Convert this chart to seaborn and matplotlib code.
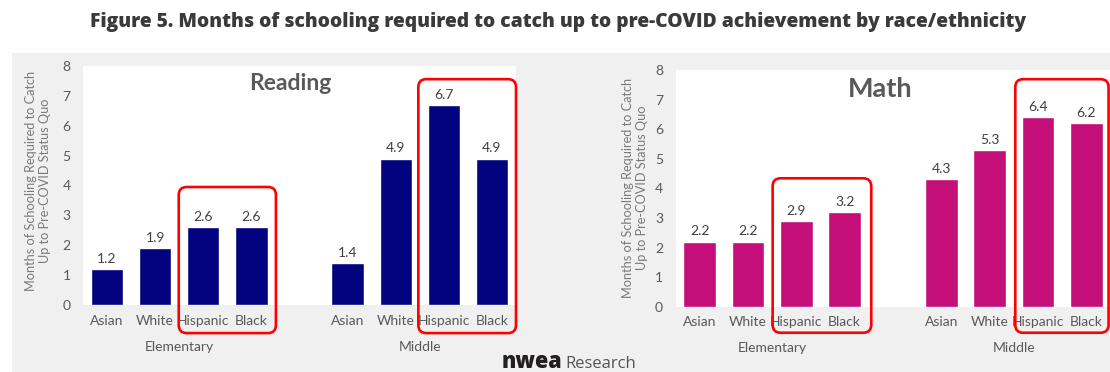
import matplotlib
matplotlib.use("Agg")
import matplotlib.pyplot as plt
from matplotlib.patches import Rectangle, FancyBboxPatch
from matplotlib.transforms import IdentityTransform, blended_transform_factory
import seaborn as sns
import pandas as pd

# ---- data -------------------------------------------------------------
races = ["Asian", "White", "Hispanic", "Black"]
levels = ["Elementary", "Middle"]
reading_elementary = [1.2, 1.9, 2.6, 2.6]
reading_middle = [1.4, 4.9, 6.7, 4.9]
math_elementary = [2.2, 2.2, 2.9, 3.2]
math_middle = [4.3, 5.3, 6.4, 6.2]

title = "Figure 5. Months of schooling required to catch up to pre-COVID achievement by race/ethnicity"
ylabel = "Months of Schooling Required to Catch\nUp to Pre-COVID Status Quo"

READ_COLOR = "#03037f"
MATH_COLOR = "#c30f77"
TEXT_GRAY = "#595959"
PANEL_GRAY = "#f0f0f0"

sns.set_theme(style="white")
plt.rcParams["font.family"] = ["Lato", "DejaVu Sans"]

W, H = 1110, 372
fig = plt.figure(figsize=(W / 100, H / 100), dpi=100)
fig.patch.set_facecolor("white")

# light gray panel behind both charts
fig.patches.append(Rectangle((12 / W, 0), (W - 12) / W, (H - 53) / H,
                             transform=fig.transFigure, facecolor=PANEL_GRAY,
                             edgecolor="none", zorder=-10))


def px_axes(left, right, top, bottom):
    return fig.add_axes([left / W, (H - bottom) / H, (right - left) / W, (bottom - top) / H])


def make_frame(elem, mid):
    rows = []
    for lvl, vals in zip(levels, [elem, mid]):
        for r, v in zip(races, vals):
            rows.append({"slot": f"{lvl} {r}", "value": v})
    return pd.DataFrame(rows)


order = [f"Elementary {r}" for r in races] + ["gap"] + [f"Middle {r}" for r in races]
slot_pos = [0, 1, 2, 3, 5, 6, 7, 8]


def draw_panel(ax, elem, mid, color, name, name_size, name_xy):
    df = make_frame(elem, mid)
    sns.barplot(data=df, x="slot", y="value", order=order, color=color,
                saturation=1, width=0.67, ax=ax, errorbar=None)
    ax.set_facecolor("white")
    ax.set_xlim(-0.5, 8.5)
    ax.set_ylim(0, 8)
    ax.set_yticks(range(0, 9))
    ax.set_xticks(slot_pos)
    ax.set_xticklabels(races * 2)
    ax.set_xlabel("")
    ax.set_ylabel("")
    for s in ax.spines.values():
        s.set_visible(False)
    ax.tick_params(axis="both", length=0, colors=TEXT_GRAY, labelsize=10)
    ax.tick_params(axis="y", pad=9)
    ax.tick_params(axis="x", pad=7)
    for c in ax.containers:
        ax.bar_label(c, fmt="%.1f", padding=3, color="#404040", fontsize=10)
    tr = blended_transform_factory(ax.transData, ax.transAxes)
    for lvl, center in zip(levels, [1.5, 6.5]):
        ax.text(center, -0.176, lvl, transform=tr, ha="center", va="center",
                color=TEXT_GRAY, fontsize=10)
    fig.text(name_xy[0] / W, 1 - name_xy[1] / H, name, ha="center", va="center",
             fontsize=name_size, fontweight="bold", color=TEXT_GRAY)


def callout(ax, x0, x1, y0, y1):
    px0, py0 = ax.transData.transform((x0, y0))
    px1, py1 = ax.transData.transform((x1, y1))
    fig.add_artist(FancyBboxPatch((px0, py0), px1 - px0, py1 - py0,
                                  boxstyle="round,pad=0,rounding_size=8",
                                  transform=IdentityTransform(), fill=False,
                                  edgecolor="#ff0000", linewidth=1.9, clip_on=False,
                                  zorder=20))


ax_read = px_axes(83, 516, 66, 305)
draw_panel(ax_read, reading_elementary, reading_middle, READ_COLOR, "Reading", 16.5, (290, 84))
callout(ax_read, 1.49, 3.51, -0.94, 3.95)
callout(ax_read, 6.47, 8.5, -0.94, 7.56)

ax_math = px_axes(675.5, 1110.5, 70, 306.7)
draw_panel(ax_math, math_elementary, math_middle, MATH_COLOR, "Math", 19.5, (880, 89))
callout(ax_math, 1.51, 3.55, -0.88, 4.34)
callout(ax_math, 6.53, 8.46, -0.88, 7.69)

# axis titles
for x, y in [(38, 181), (635, 188)]:
    fig.text(x / W, 1 - y / H, ylabel, rotation=90, ha="center", va="center",
             multialignment="center", fontsize=9.2, color="#7a7a7a", linespacing=1.25)

# figure title
fig.text(558 / W, 1 - 22 / H, title, ha="center", va="center", fontsize=13.9,
         fontweight="heavy", color="#3a3a3a", family=["Open Sans", "DejaVu Sans"])

# footer wordmark
fig.text(562 / W, 1 - 368 / H, "nwea", ha="right", va="baseline", fontsize=15.5,
         fontweight="heavy", color="#231f20", family=["Open Sans", "DejaVu Sans"])
fig.text(565 / W, 1 - 368 / H, "Research", ha="left", va="baseline", fontsize=12,
         color="#555555", family=["Open Sans", "DejaVu Sans"])

fig.savefig("out.png", dpi=100, facecolor=fig.get_facecolor())
